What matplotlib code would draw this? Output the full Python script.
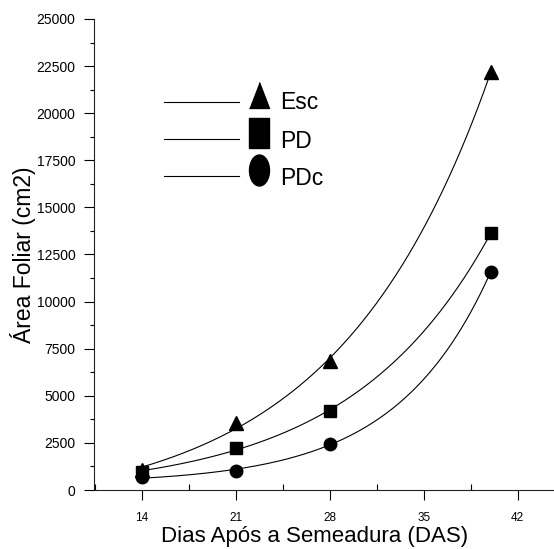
import numpy as np
import matplotlib.pyplot as plt
from matplotlib.path import Path
from matplotlib.ticker import MultipleLocator

plt.rcParams['font.family'] = ['Liberation Sans', 'DejaVu Sans']

# data
das = [14, 21, 28, 40]
esc = [1050, 3560, 6830, 22200]
pd_ = [950, 2250, 4190, 13640]
pdc = [680, 1010, 2430, 11590]
series = ['Esc', 'PD', 'PDc']
x_ticks = [14, 21, 28, 35, 42]
y_ticks = [0, 2500, 5000, 7500, 10000, 12500, 15000, 17500, 20000, 22500, 25000]


def exp_fit(x, y):
    # y = y0 + A*exp(x/t), best t by grid search
    x = np.asarray(x, float)
    y = np.asarray(y, float)
    best = None
    for t in np.linspace(3, 60, 2000):
        M = np.column_stack([np.ones_like(x), np.exp(x / t)])
        coef, res, _, _ = np.linalg.lstsq(M, y, rcond=None)
        err = np.sum((M @ coef - y) ** 2)
        if best is None or err < best[0]:
            best = (err, t, coef)
    _, t, coef = best
    return lambda xx: coef[0] + coef[1] * np.exp(xx / t)


# stretched markers like in the original
tri = [(-10, -13), (10, -13), (0, 13)]
sq = [(-10, -15.5), (10, -15.5), (10, 15.5), (-10, 15.5), (-10, -15.5)]
circ = Path.unit_circle()
ell = Path(circ.vertices * np.array([0.645, 1.0]), circ.codes)

fig = plt.figure(figsize=(5.54, 5.49), dpi=100)
ax = fig.add_axes([94 / 554, 1 - 490 / 549, 459 / 554, 471 / 549])

xs = np.linspace(14, 40, 300)
for vals, m in zip([esc, pd_, pdc], ['^', 's', 'o']):
    f = exp_fit(das, vals)
    ax.plot(xs, f(xs), color='black', lw=0.8)
    ax.plot(das, vals, ls='none', marker=m, color='black', ms=9 if m != '^' else 10)

# hand made legend
leg_y = [0.8244, 0.7459, 0.6667]
mk_y = [0.8386, 0.758, 0.6794]
txt_y = [0.8217, 0.7395, 0.6624]
for lab, ly, my, ty, mk, ms in zip(series, leg_y, mk_y, txt_y, [tri, sq, ell], [18.7, 22.3, 22.3]):
    ax.plot([0.1525, 0.316], [ly, ly], color='black', lw=0.8, transform=ax.transAxes)
    ax.plot([0.3595], [my], marker=mk, ms=ms, color='black', transform=ax.transAxes, clip_on=False)
    ax.text(0.405, ty, lab, fontsize=16.5, va='center', ha='left', transform=ax.transAxes)

ax.set_xlim(10.45, 44.63)
ax.set_ylim(0, 25000)
ax.set_xticks(x_ticks)
ax.set_yticks(y_ticks)
ax.xaxis.set_minor_locator(MultipleLocator(3.5))
ax.yaxis.set_minor_locator(MultipleLocator(1250))
ax.set_yticklabels([str(v) for v in y_ticks])

for border in ['right', 'top']:
    ax.spines[border].set_visible(False)
for border in ['left', 'bottom']:
    ax.spines[border].set_linewidth(0.8)
    ax.spines[border].set_color('#222222')

ax.tick_params(axis='x', which='major', direction='out', length=7.5, width=0.8, pad=8, labelsize=8.5)
ax.tick_params(axis='x', which='minor', direction='in', length=4, width=0.8)
ax.tick_params(axis='y', which='major', direction='out', length=7.5, width=0.8, pad=6, labelsize=10)
ax.tick_params(axis='y', which='minor', direction='out', length=3, width=0.8)

ax.set_xlabel('Dias Após a Semeadura (DAS)', fontsize=16, labelpad=2)
ax.xaxis.label.set_x(0.4815)
ax.set_ylabel('Área Foliar (cm2)', fontsize=16.5, labelpad=0.5)

fig.savefig('out.png', dpi=100)
